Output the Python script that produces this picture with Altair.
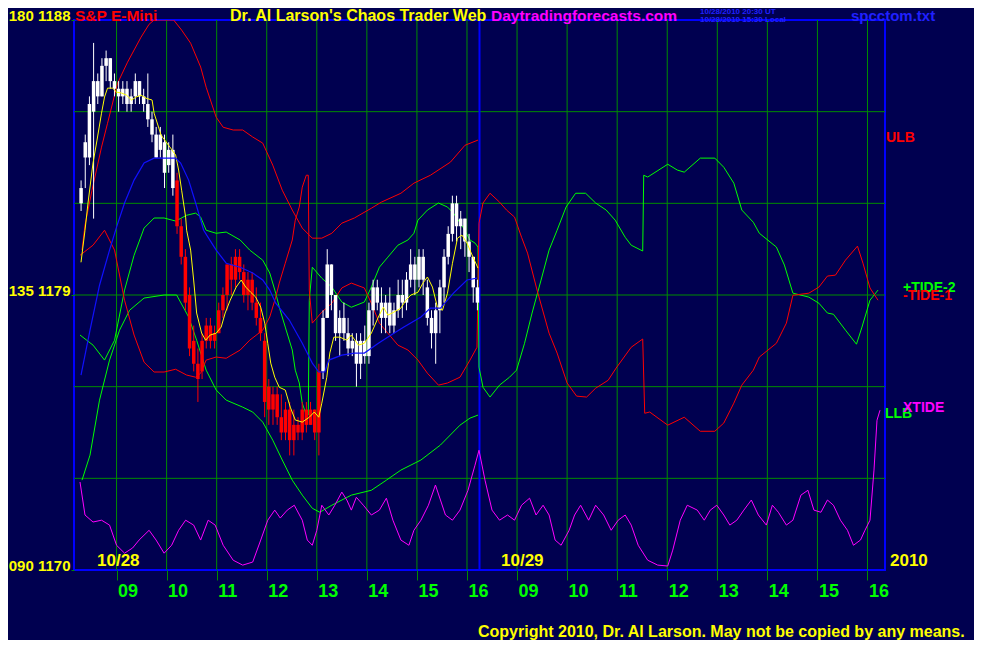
import altair as alt
import pandas as pd

NAVY = "#000050"
GRID = "#008c00"

# time axis: session hours, 0 = 08:15 on 10/28, 8 = 16:15 on 10/28 = 08:15 on 10/29, 16 = 16:15 on 10/29
tick_t = [0.75, 1.75, 2.75, 3.75, 4.75, 5.75, 6.75, 7.75,
          8.75, 9.75, 10.75, 11.75, 12.75, 13.75, 14.75, 15.75]
tick_lab = ["09", "10", "11", "12", "13", "14", "15", "16",
            "09", "10", "11", "12", "13", "14", "15", "16"]
day_sep = [8.0]
y_ticks = [1170, 1179, 1188]
y_labs = ["090 1170", "135 1179", "180 1188"]
h_grid = [1173, 1176, 1179, 1182, 1185]

# 5-minute bars of 10/28
bar_open = [1182.0, 1183.5, 1183.5, 1185.0, 1186.0, 1185.5, 1186.5, 1186.75, 1186.0, 1185.75,
            1185.5, 1185.75, 1185.25, 1185.5, 1186.0, 1185.5, 1185.25, 1184.75, 1184.25, 1183.75,
            1184.0, 1183.25, 1183.75, 1182.75, 1181.25, 1180.25, 1179.0, 1177.5, 1176.75, 1176.5,
            1177.5, 1178.0, 1177.5, 1177.75, 1178.5, 1179.0, 1180.0, 1179.5, 1180.25, 1179.75,
            1179.0, 1179.5, 1178.75, 1178.25, 1177.5, 1176.0, 1175.25, 1175.75, 1175.0, 1174.5,
            1175.25, 1174.25, 1174.75, 1174.5, 1175.25, 1174.75, 1175.25, 1174.5, 1176.5, 1178.25,
            1180.0, 1179.0, 1177.75, 1178.25, 1177.75, 1177.25, 1177.5, 1176.75, 1177.5, 1177.0,
            1178.5, 1179.25, 1178.75, 1178.25, 1178.75, 1178.0, 1178.5, 1179.0, 1178.75, 1179.5,
            1180.0, 1179.5, 1180.25, 1179.25, 1178.25, 1177.75, 1178.5, 1179.25, 1180.25, 1181.0,
            1182.0, 1181.25, 1181.5, 1180.75, 1180.25, 1179.25]
bar_high = [1182.75, 1184.25, 1185.5, 1187.25, 1186.25, 1186.75, 1187.0, 1186.75, 1186.25, 1186.0,
            1186.0, 1186.0, 1185.75, 1186.25, 1186.0, 1185.75, 1186.25, 1185.0, 1184.5, 1184.5,
            1184.25, 1184.0, 1184.25, 1183.0, 1181.5, 1180.5, 1179.25, 1178.0, 1177.25, 1177.75,
            1178.25, 1178.25, 1178.0, 1178.75, 1179.25, 1180.0, 1180.25, 1180.5, 1180.5, 1180.0,
            1179.75, 1179.75, 1179.25, 1178.75, 1177.75, 1176.25, 1176.0, 1176.0, 1175.75, 1175.5,
            1175.5, 1175.25, 1175.0, 1175.5, 1175.5, 1175.5, 1175.25, 1176.75, 1178.5, 1180.5,
            1180.0, 1179.0, 1178.5, 1178.75, 1178.25, 1177.75, 1177.75, 1177.75, 1178.0, 1178.75,
            1179.5, 1179.5, 1179.25, 1179.0, 1179.25, 1178.75, 1179.5, 1179.5, 1179.75, 1180.5,
            1180.25, 1180.5, 1180.5, 1179.5, 1178.5, 1178.75, 1179.5, 1180.5, 1181.25, 1182.25,
            1182.25, 1181.75, 1181.5, 1181.0, 1180.25, 1179.5]
bar_low = [1181.75, 1182.5, 1183.25, 1181.5, 1185.25, 1185.5, 1186.0, 1185.75, 1185.5, 1185.0,
           1185.25, 1185.0, 1185.0, 1185.25, 1185.25, 1185.0, 1184.5, 1184.0, 1183.5, 1183.5,
           1182.5, 1183.0, 1182.25, 1181.0, 1180.0, 1178.5, 1177.0, 1176.5, 1175.5, 1176.25,
           1177.25, 1177.25, 1177.25, 1177.75, 1178.25, 1178.5, 1179.0, 1179.25, 1179.5, 1178.75,
           1178.5, 1178.5, 1178.0, 1177.5, 1175.0, 1174.75, 1174.75, 1174.75, 1174.25, 1174.25,
           1173.75, 1173.75, 1174.25, 1174.25, 1174.5, 1174.75, 1174.25, 1173.75, 1176.25, 1178.25,
           1178.5, 1177.5, 1177.0, 1177.5, 1177.0, 1177.0, 1176.0, 1176.25, 1176.75, 1176.75,
           1178.0, 1178.5, 1177.75, 1177.75, 1177.75, 1177.75, 1178.25, 1178.25, 1178.5, 1179.25,
           1179.0, 1179.25, 1179.0, 1178.0, 1177.25, 1176.75, 1177.75, 1178.75, 1180.0, 1180.75,
           1180.75, 1180.5, 1180.25, 1179.75, 1178.75, 1178.5]
bar_close = [1182.5, 1184.0, 1185.25, 1186.0, 1185.5, 1186.5, 1186.75, 1186.0, 1185.75, 1185.5,
             1185.75, 1185.25, 1185.5, 1186.0, 1185.5, 1185.25, 1184.75, 1184.25, 1183.5, 1184.25,
             1183.0, 1183.75, 1182.5, 1181.25, 1180.25, 1178.75, 1177.25, 1176.75, 1176.25, 1177.5,
             1178.0, 1177.5, 1177.75, 1178.5, 1179.0, 1180.0, 1179.5, 1180.25, 1179.75, 1179.0,
             1179.5, 1178.75, 1178.25, 1177.75, 1175.5, 1175.25, 1175.75, 1175.0, 1174.5, 1175.25,
             1174.25, 1174.75, 1174.5, 1175.25, 1174.75, 1175.25, 1174.5, 1176.5, 1178.25, 1180.0,
             1179.0, 1177.75, 1178.25, 1177.75, 1177.25, 1177.5, 1176.75, 1177.5, 1177.0, 1178.5,
             1179.25, 1178.75, 1178.25, 1178.75, 1178.0, 1178.5, 1179.0, 1178.75, 1179.5, 1180.0,
             1179.5, 1180.25, 1179.5, 1178.25, 1177.75, 1178.5, 1179.25, 1180.25, 1181.0, 1182.0,
             1181.25, 1181.5, 1180.75, 1180.25, 1179.25, 1178.75]
bar_color = ["w"] * 23 + ["r"] * 35 + ["w"] * 38

# yellow fast average
yel_t = [0.04, 0.12, 0.18, 0.28, 0.36, 0.45, 0.51, 0.57, 0.67, 0.75, 0.85, 0.95, 1.05, 1.14, 1.24, 1.34,
         1.46, 1.50, 1.64, 1.83, 1.93, 1.99, 2.05, 2.13, 2.15, 2.23, 2.29, 2.35, 2.45, 2.53, 2.62, 2.74,
         2.84, 2.92, 3.02, 3.14, 3.24, 3.33, 3.43, 3.53, 3.63, 3.71, 3.77, 3.83, 3.91, 4.00, 4.12, 4.22,
         4.32, 4.46, 4.60, 4.70, 4.79, 4.85, 4.95, 5.01, 5.09, 5.21, 5.35, 5.44, 5.58, 5.70, 5.84, 5.98,
         6.08, 6.17, 6.29, 6.43, 6.53, 6.63, 6.77, 6.87, 6.96, 7.06, 7.16, 7.26, 7.36, 7.46, 7.56, 7.65,
         7.75, 7.87, 7.97]
yel_v = [1180.07, 1181.12, 1182.01, 1183.32, 1184.07, 1184.95, 1185.48, 1185.77, 1185.77, 1185.64,
         1185.61, 1185.54, 1185.38, 1185.48, 1185.54, 1185.44, 1185.38, 1184.95, 1184.23, 1183.81,
         1183.58, 1183.09, 1182.43, 1181.55, 1181.12, 1180.47, 1179.49, 1178.41, 1177.75, 1177.52,
         1177.69, 1177.75, 1177.95, 1178.41, 1178.83, 1179.26, 1179.49, 1179.26, 1179.09, 1178.93,
         1178.60, 1178.08, 1177.42, 1176.77, 1176.31, 1175.98, 1175.89, 1175.33, 1174.91, 1174.84,
         1175.00, 1175.17, 1175.00, 1175.46, 1176.31, 1177.10, 1177.62, 1177.62, 1177.52, 1177.69,
         1177.36, 1177.42, 1177.75, 1178.28, 1178.60, 1178.34, 1178.44, 1178.57, 1178.83, 1179.00,
         1179.09, 1179.39, 1179.59, 1179.26, 1178.60, 1178.50, 1179.06, 1180.04, 1180.86, 1180.96,
         1180.70, 1180.24, 1179.88]

# blue slow average
blu_t = [0.04, 0.22, 0.41, 0.61, 0.75, 0.91, 1.10, 1.30, 1.50, 1.93, 2.03, 2.19, 2.33, 2.49, 2.74, 2.94,
         3.22, 3.47, 3.67, 3.81, 3.93, 4.20, 4.46, 4.66, 4.79, 4.91, 4.99, 5.25, 5.50, 5.70, 5.98, 6.29,
         6.49, 6.83, 7.02, 7.22, 7.48, 7.75, 7.95]
blu_v = [1176.38, 1177.85, 1179.32, 1180.47, 1181.22, 1182.01, 1182.76, 1183.32, 1183.48, 1183.48,
         1183.32, 1182.76, 1182.01, 1181.12, 1180.47, 1180.04, 1179.91, 1179.72, 1179.49, 1179.16,
         1178.73, 1178.18, 1177.42, 1176.77, 1176.48, 1176.48, 1176.87, 1177.03, 1177.10, 1177.10,
         1177.42, 1177.75, 1177.95, 1178.28, 1178.57, 1178.57, 1179.06, 1179.49, 1179.55]

# ULB (red) 10/28
ulb_t = [0.06, 0.12, 0.26, 0.45, 0.57, 0.77, 0.97, 1.24, 1.40, 1.50, 1.89, 2.05, 2.23, 2.43, 2.54, 2.74,
         2.88, 3.08, 3.27, 3.47, 3.67, 3.87, 4.06, 4.26, 4.46, 4.66, 4.85, 5.05, 5.25, 5.50, 5.84, 6.04,
         6.43, 6.69, 7.02, 7.42, 7.71, 7.97]
ulb_v = [1180.47, 1181.29, 1182.43, 1183.84, 1184.62, 1185.93, 1186.62, 1187.44, 1187.86, 1188.0,
         1188.0, 1187.67, 1187.24, 1186.46, 1185.80, 1184.82, 1184.49, 1184.40, 1184.40, 1184.17,
         1183.97, 1183.25, 1182.43, 1181.78, 1181.19, 1180.86, 1180.86, 1181.02, 1181.35, 1181.52,
         1181.84, 1182.04, 1182.33, 1182.66, 1182.92, 1183.35, 1183.90, 1184.07]

# LLB (green) 10/28
llb_t = [0.06, 0.22, 0.41, 0.61, 0.81, 1.01, 1.30, 1.70, 1.95, 2.19, 2.35, 2.54, 2.74, 2.94, 3.27, 3.47,
         3.67, 3.87, 4.06, 4.26, 4.46, 4.66, 4.81, 5.05, 5.44, 5.84, 6.14, 6.43, 6.83, 7.22, 7.61, 7.81,
         7.97]
llb_v = [1172.94, 1173.76, 1175.56, 1176.87, 1177.85, 1178.50, 1178.90, 1179.00, 1179.00, 1178.28,
         1177.52, 1176.54, 1175.89, 1175.56, 1175.33, 1175.17, 1174.84, 1174.25, 1173.60, 1172.94,
         1172.45, 1172.02, 1171.89, 1172.12, 1172.45, 1172.61, 1172.94, 1173.27, 1173.60, 1174.09,
         1174.74, 1174.97, 1175.07]

# +TIDE-2 (green), both days
tp_t = [0.02, 0.28, 0.51, 0.71, 0.91, 1.10, 1.30, 1.50, 1.70, 1.93, 2.15, 2.33, 2.43, 2.54, 2.74, 2.94,
        3.22, 3.41, 3.67, 3.81, 3.93, 4.00, 4.12, 4.26, 4.32, 4.40, 4.46, 4.54, 4.58, 4.60, 4.66, 4.85,
        5.05, 5.25, 5.44, 5.70, 5.84, 6.00, 6.17, 6.37, 6.57, 6.69, 6.77, 6.96, 7.18, 7.36, 7.48, 7.67,
        7.81, 7.91, 7.97, 7.99, 8.07, 8.21, 8.40, 8.60, 8.74, 8.90, 9.05, 9.23, 9.39, 9.55, 9.73, 9.92,
        10.12, 10.32, 10.53, 10.71, 10.91, 11.03, 11.26, 11.28, 11.36, 11.76, 11.95, 12.09, 12.41, 12.70,
        12.88, 13.08, 13.24, 13.47, 13.59, 13.93, 14.09, 14.26, 14.58, 14.78, 14.95, 15.07, 15.31, 15.53,
        15.64, 15.80, 15.96]
tp_v = [1177.69, 1177.36, 1176.87, 1177.52, 1179.16, 1180.30, 1181.19, 1181.52, 1181.52, 1181.42,
        1181.61, 1181.68, 1181.55, 1181.12, 1181.02, 1181.06, 1180.80, 1180.47, 1180.14, 1179.72,
        1179.06, 1178.60, 1177.95, 1177.20, 1176.54, 1176.12, 1175.46, 1175.07, 1175.07, 1178.83,
        1179.91, 1179.55, 1179.26, 1178.77, 1178.60, 1178.77, 1179.26, 1179.91, 1180.24, 1180.63,
        1180.80, 1181.02, 1181.45, 1181.78, 1182.01, 1181.88, 1181.68, 1181.22, 1180.80, 1180.70,
        1180.57, 1176.64, 1175.98, 1175.66, 1176.05, 1176.31, 1176.54, 1177.42, 1178.41, 1179.49,
        1180.47, 1181.12, 1181.88, 1182.33, 1182.33, 1182.01, 1181.78, 1181.45, 1180.89, 1180.63,
        1180.44, 1182.92, 1182.86, 1183.28, 1183.09, 1183.02, 1183.48, 1183.48, 1183.18, 1182.66,
        1181.78, 1181.38, 1181.02, 1180.57, 1179.98, 1179.06, 1178.93, 1178.73, 1178.41, 1178.37,
        1177.85, 1177.39, 1177.95, 1178.83, 1179.16]

# -TIDE-1 (red), both days
tm_t = [0.02, 0.28, 0.51, 0.71, 0.91, 1.10, 1.30, 1.50, 1.70, 1.93, 2.15, 2.33, 2.43, 2.54, 2.74, 2.94,
        3.22, 3.41, 3.67, 3.81, 3.93, 4.00, 4.12, 4.26, 4.32, 4.40, 4.46, 4.54, 4.58, 4.60, 4.66, 4.85,
        5.05, 5.25, 5.44, 5.70, 5.84, 6.00, 6.17, 6.37, 6.57, 6.77, 6.96, 7.18, 7.36, 7.61, 7.81, 7.95,
        7.99, 8.07, 8.21, 8.40, 8.54, 8.70, 8.84, 8.96, 9.15, 9.39, 9.55, 9.75, 9.94, 10.14, 10.32, 10.57,
        10.73, 11.03, 11.26, 11.30, 11.40, 11.76, 12.09, 12.41, 12.70, 12.88, 13.08, 13.24, 13.47, 13.59,
        13.93, 14.13, 14.26, 14.58, 14.78, 14.95, 15.11, 15.31, 15.55, 15.66, 15.80, 15.96]
tm_v = [1180.30, 1180.63, 1181.12, 1180.47, 1178.83, 1177.69, 1176.80, 1176.48, 1176.48, 1176.57,
        1176.38, 1176.31, 1176.44, 1176.87, 1176.97, 1176.93, 1177.20, 1177.52, 1177.85, 1178.28,
        1178.93, 1179.39, 1180.04, 1180.80, 1181.45, 1181.88, 1182.53, 1182.92, 1182.92, 1179.16,
        1178.08, 1178.44, 1178.73, 1179.23, 1179.39, 1179.23, 1178.73, 1178.08, 1177.75, 1177.36,
        1177.20, 1176.87, 1176.44, 1176.05, 1176.12, 1176.31, 1176.87, 1177.29,
        1181.35, 1182.01, 1182.33, 1182.04, 1181.78, 1181.55, 1180.89, 1180.37, 1179.16, 1177.75,
        1177.10, 1176.12, 1175.69, 1175.66, 1175.95, 1176.21, 1176.61, 1177.29, 1177.56, 1175.13,
        1175.17, 1174.74, 1175.00, 1174.54, 1174.54, 1174.81, 1175.46, 1176.05, 1176.54, 1176.97,
        1177.42, 1178.08, 1178.99, 1179.06, 1179.26, 1179.62, 1179.65, 1180.14, 1180.60, 1180.04,
        1179.23, 1178.83]

# XTIDE (magenta), both days
xt_t = [0.02, 0.12, 0.28, 0.45, 0.61, 0.75, 0.91, 1.07, 1.20, 1.40, 1.54, 1.70, 1.85, 1.99, 2.13, 2.29,
        2.43, 2.58, 2.72, 2.88, 3.08, 3.27, 3.47, 3.63, 3.77, 3.91, 4.02, 4.16, 4.30, 4.46, 4.56, 4.66,
        4.75, 4.85, 4.99, 5.11, 5.25, 5.35, 5.44, 5.54, 5.68, 5.84, 6.00, 6.14, 6.27, 6.43, 6.59, 6.69,
        6.83, 6.98, 7.12, 7.22, 7.32, 7.46, 7.61, 7.77, 7.91, 7.99, 8.11, 8.25, 8.40, 8.56, 8.70, 8.84,
        9.00, 9.13, 9.27, 9.39, 9.51, 9.63, 9.79, 9.90, 10.02, 10.18, 10.32, 10.48, 10.63, 10.77, 10.91,
        11.03, 11.17, 11.36, 11.56, 11.76, 11.86, 12.01, 12.15, 12.35, 12.49, 12.61, 12.74, 12.88, 13.00,
        13.14, 13.28, 13.43, 13.57, 13.73, 13.85, 13.97, 14.13, 14.26, 14.42, 14.56, 14.68, 14.82, 14.95,
        15.07, 15.21, 15.35, 15.47, 15.61, 15.70, 15.80, 15.88, 15.94, 16.00]
xt_v = [1172.88, 1171.80, 1171.57, 1171.63, 1171.47, 1170.81, 1170.55, 1170.72, 1170.98, 1171.30,
        1170.98, 1170.55, 1170.81, 1171.30, 1171.63, 1171.47, 1170.98, 1171.63, 1171.47, 1170.81,
        1170.32, 1170.16, 1170.26, 1170.98, 1171.63, 1171.96, 1171.70, 1171.96, 1172.12, 1171.63,
        1170.98, 1170.81, 1171.30, 1172.12, 1171.80, 1172.12, 1172.55, 1172.29, 1171.96, 1172.38,
        1172.12, 1171.80, 1171.96, 1172.35, 1171.63, 1170.98, 1170.81, 1171.30, 1171.63, 1172.12,
        1172.78, 1172.29, 1171.80, 1171.63, 1171.96, 1172.61, 1173.43, 1173.92, 1172.94, 1171.96,
        1171.63, 1171.80, 1171.63, 1172.12, 1172.35, 1171.80, 1172.12, 1171.80, 1170.98, 1170.81,
        1171.30, 1171.80, 1172.12, 1171.63, 1172.12, 1171.80, 1171.30, 1171.63, 1171.80, 1171.47,
        1170.81, 1170.32, 1170.16, 1170.13, 1170.65, 1171.63, 1172.12, 1171.96, 1171.63, 1171.96,
        1172.12, 1171.80, 1171.47, 1171.63, 1171.96, 1172.29, 1171.80, 1171.47, 1172.12, 1171.89,
        1171.47, 1171.63, 1172.45, 1172.61, 1171.96, 1171.89, 1172.29, 1172.12, 1171.63, 1171.30,
        1170.81, 1170.98, 1171.30, 1171.63, 1173.27, 1174.90, 1175.23]

# ---------- frames ----------
bars = pd.DataFrame({"o": bar_open, "h": bar_high, "l": bar_low, "c": bar_close, "col": bar_color})
bars["t"] = [(i + 0.5) / 12.0 for i in range(len(bars))]
bars["lo"] = bars[["o", "c"]].min(axis=1)
bars["hi"] = bars[["o", "c"]].max(axis=1)


def line_df(ts, vs):
    return pd.DataFrame({"t": ts, "v": vs, "i": list(range(len(ts)))})


xs = alt.Scale(domain=[0, 16], nice=False, zero=False)
ys = alt.Scale(domain=[1170, 1188], nice=False, zero=False)

x_expr = " : ".join(f"abs(datum.value - {v}) < 0.01 ? '{l}'" for v, l in zip(tick_t, tick_lab)) + " : ''"
y_expr = " : ".join(f"abs(datum.value - {v}) < 0.01 ? '{l}'" for v, l in zip(y_ticks, y_labs)) + " : ''"

FONT = "Liberation Sans"

x_axis = alt.Axis(values=tick_t, labelExpr=x_expr, title=None, grid=False, domain=False,
                  tickColor=GRID, tickSize=10, labelColor="#00ff00", labelFont=FONT,
                  labelFontWeight="bold", labelFontSize=18, labelAlign="left", labelBaseline="top",
                  labelOffset=1, labelPadding=2, labelOverlap=False, labelFlush=False, labelBound=False)
y_axis = alt.Axis(values=y_ticks, labelExpr=y_expr, title=None, grid=False, domain=False,
                  tickColor=GRID, tickSize=3, labelColor="#ffff00", labelFont=FONT,
                  labelFontWeight="bold", labelFontSize=15, labelBaseline="alphabetic",
                  labelPadding=1, labelOverlap=False, labelFlush=False, labelBound=False)

X = alt.X("t:Q", scale=xs, axis=x_axis)
Y = alt.Y("v:Q", scale=ys, axis=y_axis)

hgrid = alt.Chart(pd.DataFrame({"v": h_grid})).mark_rule(color=GRID, strokeWidth=1).encode(y=Y)
vgrid = alt.Chart(pd.DataFrame({"t": tick_t})).mark_rule(color=GRID, strokeWidth=1).encode(x=X)
sep = alt.Chart(pd.DataFrame({"t": day_sep})).mark_rule(color="#0000ff", strokeWidth=2).encode(x=X)


def line(ts, vs, color, width=1.0):
    return alt.Chart(line_df(ts, vs)).mark_line(color=color, strokeWidth=width, clip=True).encode(
        x=X, y=Y, order="i:Q")


ulb = line(ulb_t, ulb_v, "#ff0000")
llb = line(llb_t, llb_v, "#00ff00")
tplus = line(tp_t, tp_v, "#00ff00")
tminus = line(tm_t, tm_v, "#ff0000")
xtide = line(xt_t, xt_v, "#ff00ff")
yel = line(yel_t, yel_v, "#ffff00")
blu = line(blu_t, blu_v, "#1010ff", 1.2)

cscale = alt.Scale(domain=["w", "r"], range=["#ffffff", "#ff0000"])
wicks = alt.Chart(bars).mark_rule(strokeWidth=1).encode(
    x=X, y=alt.Y("l:Q", scale=ys, axis=y_axis), y2="h:Q",
    color=alt.Color("col:N", scale=cscale, legend=None))
bodies = alt.Chart(bars).mark_bar(size=3.5).encode(
    x=X, y=alt.Y("lo:Q", scale=ys, axis=y_axis), y2="hi:Q",
    color=alt.Color("col:N", scale=cscale, legend=None))

one = pd.DataFrame({"a": [0]})


def label(txt, px, py, color, size=16, weight="bold", font=FONT):
    return alt.Chart(one).mark_text(text=txt, align="left", baseline="alphabetic", color=color,
                                    fontSize=size, fontWeight=weight, font=font).encode(
        x=alt.value(px), y=alt.value(py))


texts = [
    label("S&P E-Mini", 1, 0.5, "#ff0000", 15.5),
    label("Dr. Al Larson's Chaos Trader Web", 156, 0.5, "#ffff00", 16),
    label("Daytradingforecasts.com", 417, 0.5, "#ff00ff", 15.5),
    label("10/28/2010 20:30 UT", 626, -6, "#2020ff", 8),
    label("10/28/2010 15:30 Local", 626, 1.5, "#2020ff", 8),
    label("spcctom.txt", 777, 0.5, "#2020ff", 15),
    label("Copyright 2010, Dr. Al Larson. May not be copied by any means.", 404, 617, "#ffff00"),
    label("10/28", 23, 546, "#ffff00", 17),
    label("10/29", 427, 546, "#ffff00", 17),
    label("2010", 816, 546, "#ffff00", 17),
    label("ULB", 812, 122, "#ff0000", 14),
    label("+TIDE-2", 829, 272, "#00ff00", 14),
    label("-TIDE-1", 829, 280, "#ff0000", 14),
    label("LLB", 811, 398, "#00ff00", 14),
    label("XTIDE", 829, 392, "#ff00ff", 14),
]

chart = alt.layer(hgrid, vgrid, sep, ulb, llb, tplus, tminus, xtide, wicks, bodies, yel, blu,
                  *texts).properties(
    width=811, height=550,
    padding={"left": 66, "top": 12, "right": 89, "bottom": 70},
    autosize=alt.AutoSizeParams(type="none"),
).configure(background=NAVY).configure_view(fill=NAVY, stroke="#0000ff", strokeWidth=2)

chart.save("out.html", embed_options={"renderer": "svg", "actions": False})
